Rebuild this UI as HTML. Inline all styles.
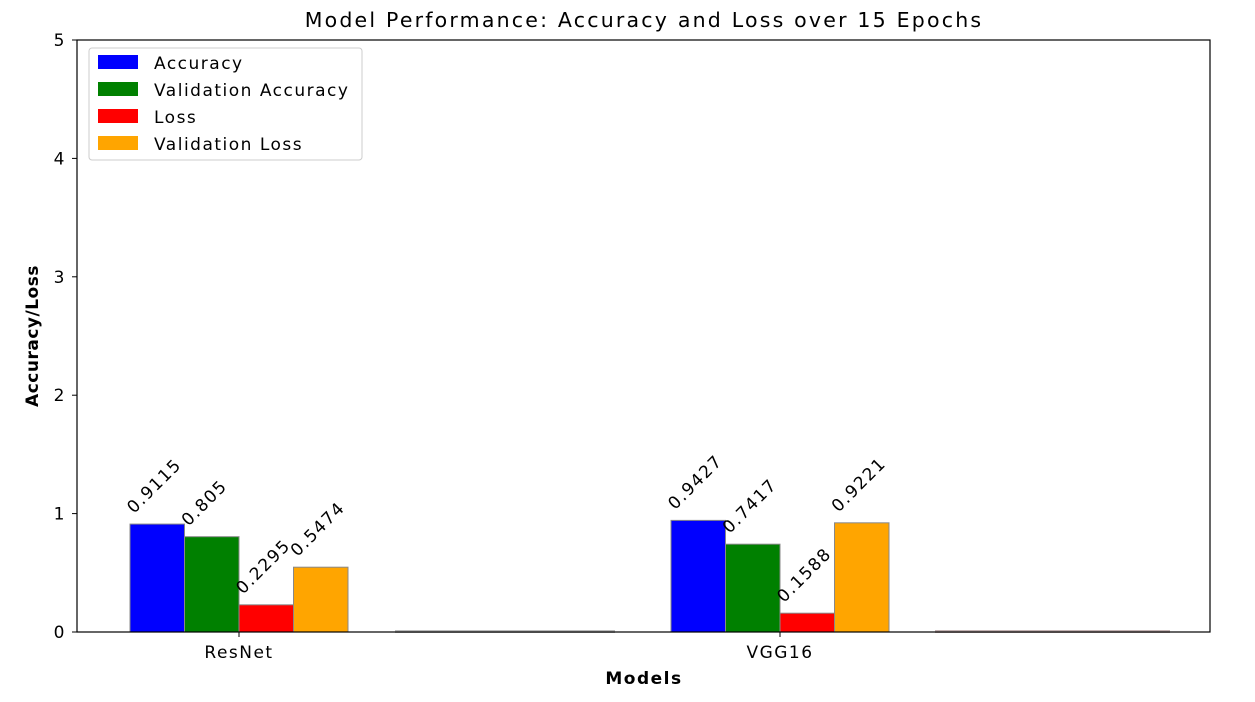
<!DOCTYPE html>
<html><head><meta charset="utf-8"><style>
body{margin:0;background:#fff;}
svg text{font-family:"DejaVu Sans","Liberation Sans",sans-serif;fill:#000;letter-spacing:1.5px;}
</style></head><body>
<svg id="chart" width="1255" height="697">
<text x="644" y="27" text-anchor="middle" font-size="20.5" style="letter-spacing:2.2px">Model Performance: Accuracy and Loss over 15 Epochs</text>
<text x="644" y="684" text-anchor="middle" font-size="17" font-weight="bold">Models</text>
<text transform="translate(38,336) rotate(-90)" text-anchor="middle" font-size="17" font-weight="bold" style="letter-spacing:0.5px">Accuracy/Loss</text>
<rect x="395" y="630" width="220" height="3" fill="#777" opacity="0.5"/>
<rect x="935" y="630" width="235" height="3" fill="#866" opacity="0.5"/>
<g id="marks"></g>
<rect x="77" y="40" width="1133" height="592" fill="none" stroke="#000" stroke-width="1.2"/>
<g>
<rect x="89" y="48" width="273" height="112" fill="#fff" stroke="#ccc" rx="3"/>
<rect x="98" y="55" width="40" height="14" fill="blue"/>
<text x="154" y="69" font-size="17">Accuracy</text>
<rect x="98" y="82" width="40" height="14" fill="green"/>
<text x="154" y="96" font-size="17">Validation Accuracy</text>
<rect x="98" y="109" width="40" height="14" fill="red"/>
<text x="154" y="123" font-size="17">Loss</text>
<rect x="98" y="136" width="40" height="14" fill="orange"/>
<text x="154" y="150" font-size="17">Validation Loss</text>
</g>
</svg>
<script>
const categories = ["ResNet", "VGG16"];
const accuracy = [0.9115, 0.9427];
const valAccuracy = [0.805, 0.7417];
const loss = [0.2295, 0.1588];
const valLoss = [0.5474, 0.9221];
const yTicks = [0, 1, 2, 3, 4, 5];
const seriesList = [accuracy, valAccuracy, loss, valLoss];
const seriesNames = ["accuracy", "val-accuracy", "loss", "val-loss"];
const colors = ["blue", "green", "red", "orange"];
const NS = "http://www.w3.org/2000/svg";
const svg = document.getElementById("chart");
const marks = document.getElementById("marks");
const y0 = 632, yTop = 40, yMax = 5;
function yS(v){ return y0 - v / yMax * (y0 - yTop); }
function xS(i){ return 239 + i * 541; }
const bw = 54.5;
yTicks.forEach(t => {
  const l = document.createElementNS(NS, "line");
  
  
  l.setAttribute("x1", 72); l.setAttribute("x2", 77);
  l.setAttribute("y1", yS(t)); l.setAttribute("y2", yS(t));
  l.setAttribute("stroke", "#000");
  svg.appendChild(l);
  const tx = document.createElementNS(NS, "text");
  
  
  tx.setAttribute("x", 66); tx.setAttribute("y", yS(t) + 6);
  tx.setAttribute("text-anchor", "end"); tx.setAttribute("font-size", "17");
  tx.textContent = t;
  svg.appendChild(tx);
});
categories.forEach((c, i) => {
  const l = document.createElementNS(NS, "line");
  
  
  l.setAttribute("x1", xS(i)); l.setAttribute("x2", xS(i));
  l.setAttribute("y1", 632); l.setAttribute("y2", 637);
  l.setAttribute("stroke", "#000");
  svg.appendChild(l);
  const tx = document.createElementNS(NS, "text");
  
  
  tx.setAttribute("x", xS(i)); tx.setAttribute("y", 658);
  tx.setAttribute("text-anchor", "middle"); tx.setAttribute("font-size", "17");
  tx.textContent = c;
  svg.appendChild(tx);
  seriesList.forEach((s, k) => {
    const x = xS(i) + (k - 2) * bw;
    const r = document.createElementNS(NS, "rect");
    
    
    r.setAttribute("x", x); r.setAttribute("width", bw);
    r.setAttribute("y", yS(s[i])); r.setAttribute("height", y0 - yS(s[i]));
    r.setAttribute("fill", colors[k]); r.setAttribute("stroke", "#888");
    marks.appendChild(r);
    const lb = document.createElementNS(NS, "text");
    
    
    lb.setAttribute("font-size", "17");
    lb.setAttribute("transform", `translate(${x + 4},${yS(s[i]) - 10}) rotate(-45)`);
    lb.textContent = s[i];
    marks.appendChild(lb);
  });
});
</script>
</body></html>
